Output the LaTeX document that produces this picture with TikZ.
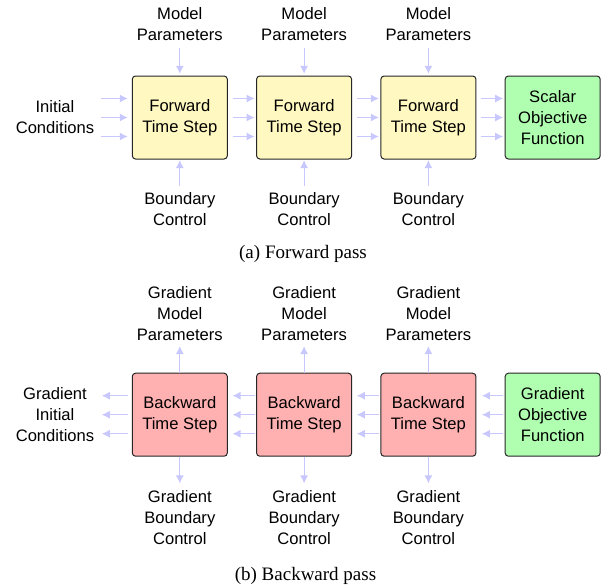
\documentclass[tikz,border=0pt]{standalone}
\usepackage{fontspec}
\setmainfont{Liberation Serif}
\setsansfont{Liberation Sans}
\usetikzlibrary{arrows.meta,calc}
\definecolor{fwdfill}{RGB}{255,248,192}
\definecolor{bwdfill}{RGB}{255,176,176}
\definecolor{objfill}{RGB}{176,255,176}
\definecolor{arrowc}{RGB}{200,200,255}
\begin{document}
\begin{tikzpicture}[x=0.5pt,y=-0.5pt,
  lbl/.style={font=\sffamily\fontsize{8.3}{10.5}\selectfont, align=center, inner sep=0pt},
  blk/.style={draw=black!85, line width=0.5pt, rounded corners=1.6pt, minimum width=47.5pt,
              minimum height=41.5pt, inner sep=0pt, align=center,
              font=\sffamily\fontsize{8.3}{10.5}\selectfont},
  flow/.style={draw=arrowc, line width=0.55pt, -{Latex[length=4pt,width=4pt]}},
  subcap/.style={font=\fontsize{9.5}{11}\selectfont, inner sep=0pt}]
\useasboundingbox (0,0) rectangle (610,586);

% ---------- forward pass ----------
\node[blk, fill=fwdfill] (f1) at (179.8,117.5) {Forward\\Time Step};
\node[blk, fill=fwdfill] (f2) at (304.1,117.5) {Forward\\Time Step};
\node[blk, fill=fwdfill] (f3) at (428.4,117.5) {Forward\\Time Step};
\node[blk, fill=objfill] (fo) at (552.7,117.5) {Scalar\\Objective\\Function};

\node[lbl] (ic) at (55,117) {Initial\\Conditions};
\foreach \i in {1,2,3}{
  \node[lbl] (mp\i) at ($(f\i.north)+(0,-51)$) {Model\\Parameters};
  \node[lbl] (bc\i) at ($(f\i.south)+(0,50)$) {Boundary\\Control};
  \draw[flow] ($(f\i.north)+(0,-27.5)$) -- ($(f\i.north)+(0,-1.7)$);
  \draw[flow] ($(f\i.south)+(0,26.3)$) -- ($(f\i.south)+(0,0.6)$);
}
\foreach \d in {-19,0,19}{
  \draw[flow] ($(f1.west)+(-30.6,\d)$) -- ($(f1.west)+(-4,\d)$);
  \draw[flow] ($(f1.east)+(5,\d)$) -- ($(f2.west)+(-1.5,\d)$);
  \draw[flow] ($(f2.east)+(5,\d)$) -- ($(f3.west)+(-1.5,\d)$);
  \draw[flow] ($(f3.east)+(5,\d)$) -- ($(fo.west)+(-1.5,\d)$);
}
\node[subcap] (capa) at (303,254) {(a) Forward pass};

% ---------- backward pass ----------
\node[blk, fill=bwdfill] (b1) at (179.8,414.7) {Backward\\Time Step};
\node[blk, fill=bwdfill] (b2) at (304.1,414.7) {Backward\\Time Step};
\node[blk, fill=bwdfill] (b3) at (428.4,414.7) {Backward\\Time Step};
\node[blk, fill=objfill] (bo) at (552.7,414.7) {Gradient\\Objective\\Function};

\node[lbl] (gic) at (55,415) {Gradient\\Initial\\Conditions};
\foreach \i in {1,2,3}{
  \node[lbl] (gmp\i) at ($(b\i.north)+(0,-59)$) {Gradient\\Model\\Parameters};
  \node[lbl] (gbc\i) at ($(b\i.south)+(0,61)$) {Gradient\\Boundary\\Control};
  \draw[flow] (b\i.north) -- ($(b\i.north)+(0,-26.6)$);
  \draw[flow] (b\i.south) -- ($(b\i.south)+(0,26.7)$);
}
\foreach \d in {-19,0,19}{
  \draw[flow] ($(b1.west)+(-4,\d)$) -- ($(b1.west)+(-30,\d)$);
  \draw[flow] ($(b2.west)+(-1.3,\d)$) -- ($(b1.east)+(4.7,\d)$);
  \draw[flow] ($(b3.west)+(-1.3,\d)$) -- ($(b2.east)+(4.7,\d)$);
  \draw[flow] ($(bo.west)+(-1.3,\d)$) -- ($(b3.east)+(5.5,\d)$);
}
\node[subcap] (capb) at (305.5,576) {(b) Backward pass};
\end{tikzpicture}
\end{document}
